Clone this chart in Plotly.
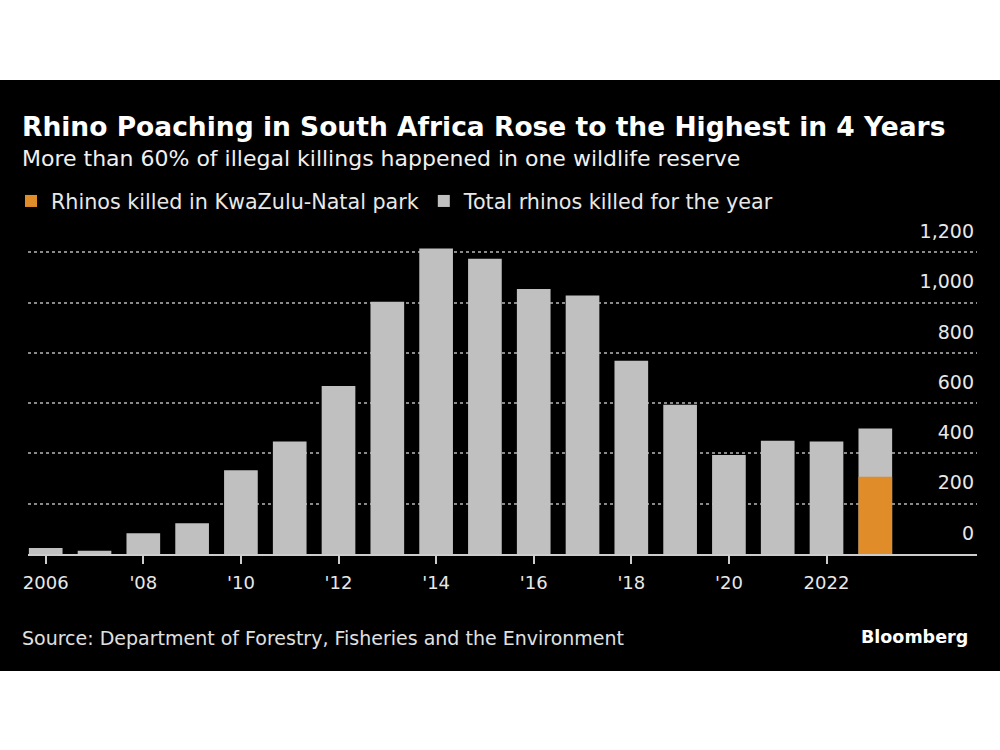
import plotly.graph_objects as go

# ---- data ----
years = list(range(2006, 2024))
total_killed = [24, 13, 83, 122, 333, 448, 668, 1004, 1215, 1175, 1054, 1028, 769, 594, 394, 451, 448, 499]
kzn_years = [2023]
kzn_killed = [307]
x_tickvals = [2006, 2008, 2010, 2012, 2014, 2016, 2018, 2020, 2022]
x_ticktext = ["2006", "'08", "'10", "'12", "'14", "'16", "'18", "'20", "2022"]
y_tickvals = [0, 200, 400, 600, 800, 1000, 1200]

W, H = 1000, 750
ML, MR, MT, MB = 28, 23, 215, 196
PW = W - ML - MR
PH = H - MT - MB

def px_x(px):
    return (px - ML) / PW

def px_y(py):
    return (H - MB - py) / PH

FONT = "DejaVu Sans"
GRAY = "#c0c0c0"
ORANGE = "#e08c28"

fig = go.Figure()
fig.add_trace(go.Bar(
    x=years, y=total_killed, name="Total rhinos killed for the year",
    marker=dict(color=GRAY, line=dict(width=0)),
    hoverinfo="x+y",
))
fig.add_trace(go.Bar(
    x=kzn_years, y=kzn_killed, name="Rhinos killed in KwaZulu-Natal park",
    marker=dict(color=ORANGE, line=dict(width=0)),
    hoverinfo="x+y",
))

shapes = [dict(
    type="rect", xref="paper", yref="paper",
    x0=px_x(-5), x1=px_x(W + 5), y0=px_y(671), y1=px_y(80),
    fillcolor="black", line=dict(width=0), layer="below",
)]

annotations = [
    dict(text="<b>Rhino Poaching in South Africa Rose to the Highest in 4 Years</b>",
         x=px_x(20), y=px_y(127), xref="paper", yref="paper",
         xanchor="left", yanchor="middle", showarrow=False,
         font=dict(family=FONT, size=26.5, color="white")),
    dict(text="More than 60% of illegal killings happened in one wildlife reserve",
         x=px_x(20), y=px_y(158), xref="paper", yref="paper",
         xanchor="left", yanchor="middle", showarrow=False,
         font=dict(family=FONT, size=22, color="#f0f0f0")),
    dict(text="Source: Department of Forestry, Fisheries and the Environment",
         x=px_x(20), y=px_y(638), xref="paper", yref="paper",
         xanchor="left", yanchor="middle", showarrow=False,
         font=dict(family=FONT, size=19, color="#e0e0e0")),
    dict(text="<b>Bloomberg</b>",
         x=px_x(970), y=px_y(637), xref="paper", yref="paper",
         xanchor="right", yanchor="middle", showarrow=False,
         font=dict(family=FONT, size=17.5, color="white")),
]

fig.update_layout(
    width=W, height=H,
    margin=dict(l=ML, r=MR, t=MT, b=MB, pad=0, autoexpand=False),
    paper_bgcolor="white", plot_bgcolor="black",
    barmode="overlay", bargap=0.31,
    font=dict(family=FONT, color="#e8e8e8"),
    showlegend=True,
    legend=dict(
        orientation="h", x=px_x(11), y=px_y(201), xanchor="left", yanchor="middle",
        traceorder="reversed", font=dict(family=FONT, size=20.7, color="#e8e8e8"),
        bgcolor="rgba(0,0,0,0)", itemclick=False, itemdoubleclick=False,
    ),
    xaxis=dict(
        range=[2005.637, 2005.637 + PW / 48.8],
        tickvals=x_tickvals, ticktext=x_ticktext,
        showgrid=False, zeroline=False,
        showline=True, linecolor="#cccccc", linewidth=2,
        ticks="outside", ticklen=8, tickwidth=1.5, tickcolor="#cccccc",
        ticklabelstandoff=3,
        tickfont=dict(family=FONT, size=18, color="#e8e8e8"),
        fixedrange=True,
    ),
    yaxis=dict(
        range=[0, PH / (50.27 / 200)],
        side="right", tickvals=y_tickvals, tickformat=",",
        ticklabelposition="inside", ticks="",
        ticklabelshift=-21,
        showgrid=True, gridcolor="#8a8a8a", griddash="dot", gridwidth=1.5,
        zeroline=False, showline=False,
        tickfont=dict(family=FONT, size=19, color="#e8e8e8"),
        fixedrange=True,
    ),
    shapes=shapes,
    annotations=annotations,
)

fig.write_html("out.html", config={"displayModeBar": False})
